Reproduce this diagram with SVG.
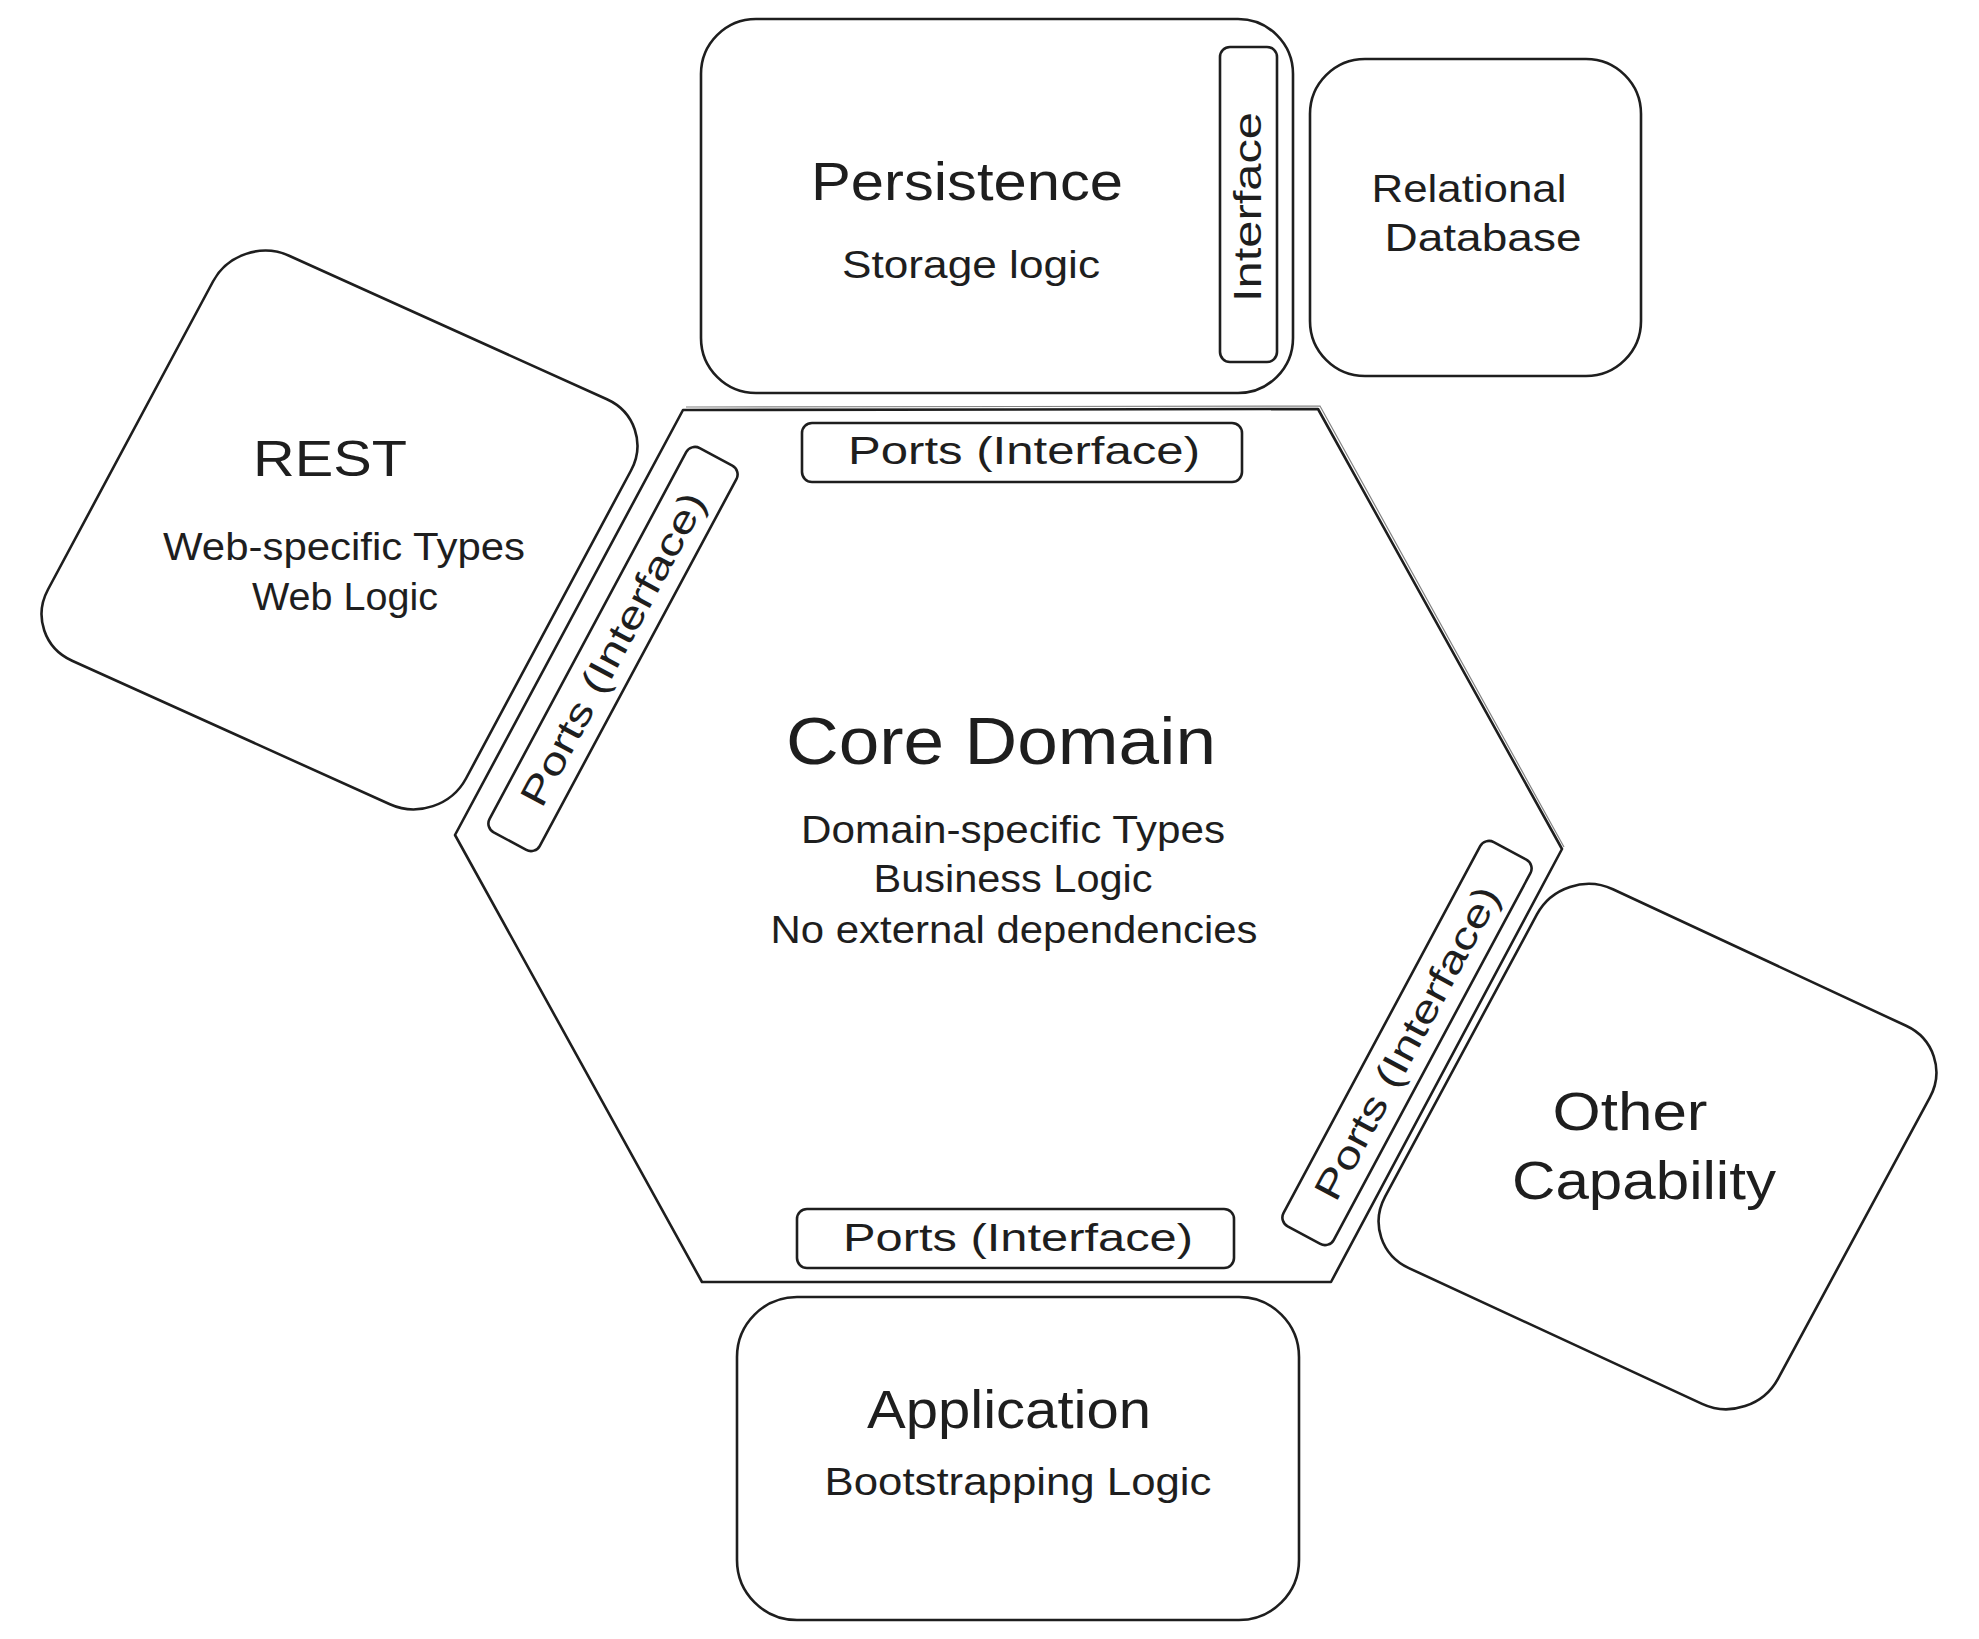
<svg xmlns="http://www.w3.org/2000/svg" width="1979" height="1639" viewBox="0 0 1979 1639">
<style>
.s{fill:none;stroke:#1e1e1e;stroke-width:2.6;stroke-linejoin:round;stroke-linecap:round}
.s2{fill:none;stroke:#1e1e1e;stroke-width:1.2;opacity:0.55}
text{font-family:"Liberation Sans","DejaVu Sans",sans-serif;fill:#1e1e1e;text-anchor:middle}
.t1{font-size:54px}
.t2{font-size:38px}
.t3{font-size:66px}
.t4{font-size:50px}
</style>
<rect width="1979" height="1639" fill="#ffffff"/>
<g id="connectors"></g>

<g id="core-domain">
  <polygon class="s" points="683,410 1318,409 1562,849 1331,1282 702,1282 455,835"/>
  <polyline class="s2" points="686,407 1320,406 1564,847"/>
  <text class="t3" x="1001" y="764" textLength="430" lengthAdjust="spacingAndGlyphs">Core Domain</text>
  <text class="t2" x="1013" y="843" textLength="424" lengthAdjust="spacingAndGlyphs">Domain-specific Types</text>
  <text class="t2" x="1013" y="892" textLength="279" lengthAdjust="spacingAndGlyphs">Business Logic</text>
  <text class="t2" x="1014" y="943" textLength="487" lengthAdjust="spacingAndGlyphs">No external dependencies</text>
</g>

<g id="ports-top">
  <rect class="s" x="802" y="423" width="440" height="59" rx="10"/>
  <text class="t2" x="1024" y="464" textLength="352" lengthAdjust="spacingAndGlyphs">Ports (Interface)</text>
</g>

<g id="ports-bottom">
  <rect class="s" x="797" y="1209" width="437" height="59" rx="10"/>
  <text class="t2" x="1018" y="1251" textLength="350" lengthAdjust="spacingAndGlyphs">Ports (Interface)</text>
</g>

<g id="ports-left" transform="translate(613,649) rotate(-61.8)">
  <rect class="s" x="-218" y="-28.5" width="436" height="57" rx="10"/>
  <text class="t2" x="0" y="13" textLength="350" lengthAdjust="spacingAndGlyphs">Ports (Interface)</text>
</g>

<g id="ports-right" transform="translate(1407,1043) rotate(-61.8)">
  <rect class="s" x="-218" y="-28.5" width="436" height="57" rx="10"/>
  <text class="t2" x="0" y="13" textLength="350" lengthAdjust="spacingAndGlyphs">Ports (Interface)</text>
</g>

<g id="persistence">
  <rect class="s" x="701" y="19" width="592" height="374" rx="55"/>
  <text class="t1" x="967" y="200" textLength="312" lengthAdjust="spacingAndGlyphs">Persistence</text>
  <text class="t2" x="971" y="278" textLength="258" lengthAdjust="spacingAndGlyphs">Storage logic</text>
</g>

<g id="persistence-interface">
  <rect class="s" x="1220" y="47" width="57" height="315" rx="10"/>
  <text class="t2" transform="translate(1248,207) rotate(-90)" x="0" y="13" textLength="190" lengthAdjust="spacingAndGlyphs">Interface</text>
</g>

<g id="relational-database">
  <rect class="s" x="1310" y="59" width="331" height="317" rx="55"/>
  <text class="t2" x="1469" y="202" textLength="195" lengthAdjust="spacingAndGlyphs">Relational</text>
  <text class="t2" x="1483" y="251" textLength="197" lengthAdjust="spacingAndGlyphs">Database</text>
</g>

<g id="rest">
  <path class="s" d="M 289.1,255.7 L 606.9,399.3 C 634.6,411.8 645.4,443.7 631.0,470.5 L 466.0,778.5 C 451.6,805.3 417.6,816.8 389.9,804.3 L 72.1,660.7 C 44.4,648.2 33.6,616.3 48.0,589.5 L 213.0,281.5 C 227.4,254.7 261.4,243.2 289.1,255.7 Z"/>
  <text class="t4" x="330" y="476" textLength="154" lengthAdjust="spacingAndGlyphs">REST</text>
  <text class="t2" x="344" y="560" textLength="362" lengthAdjust="spacingAndGlyphs">Web-specific Types</text>
  <text class="t2" x="345" y="610" textLength="186" lengthAdjust="spacingAndGlyphs">Web Logic</text>
</g>

<g id="other-capability">
  <path class="s" d="M 1612.9,889.2 L 1906.1,1025.8 C 1933.7,1038.6 1944.3,1070.6 1929.9,1097.4 L 1778.1,1378.6 C 1763.7,1405.4 1729.7,1416.7 1702.1,1403.9 L 1408.9,1268.1 C 1381.3,1255.3 1370.7,1223.4 1385.1,1196.6 L 1536.9,914.4 C 1551.3,887.6 1585.3,876.4 1612.9,889.2 Z"/>
  <text class="t1" x="1630" y="1130" textLength="155" lengthAdjust="spacingAndGlyphs">Other</text>
  <text class="t1" x="1644" y="1199" textLength="264" lengthAdjust="spacingAndGlyphs">Capability</text>
</g>

<g id="application">
  <rect class="s" x="737" y="1297" width="562" height="323" rx="60"/>
  <text class="t1" x="1009" y="1428" textLength="284" lengthAdjust="spacingAndGlyphs">Application</text>
  <text class="t2" x="1018" y="1495" textLength="387" lengthAdjust="spacingAndGlyphs">Bootstrapping Logic</text>
</g>
</svg>
